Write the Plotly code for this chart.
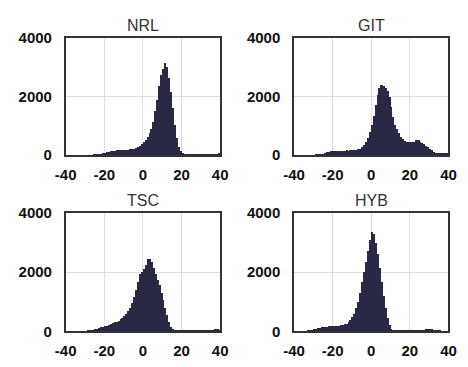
import plotly.graph_objects as go

bin_centers = [-39.5 + i for i in range(80)]

nrl = [5, 5, 5, 5, 5, 5, 5, 5, 5, 5,
       8, 8, 10, 10, 12, 15, 20, 30, 50, 70,
       90, 100, 110, 130, 150, 160, 170, 165, 170, 175,
       180, 185, 195, 205, 215, 230, 250, 280, 320, 380,
       450, 530, 620, 750, 900, 1150, 1500, 1900, 2350, 2750,
       2950, 3150, 3000, 2650, 2150, 1600, 1050, 600, 300, 150,
       90, 60, 45, 35, 30, 28, 25, 25, 25, 25,
       25, 25, 25, 25, 25, 25, 25, 30, 50, 80]

git = [5, 5, 5, 5, 5, 5, 5, 5, 5, 8,
       10, 15, 20, 30, 45, 60, 80, 100, 120, 140,
       150, 155, 160, 150, 155, 160, 160, 165, 160, 165,
       170, 175, 180, 200, 230, 280, 350, 450, 600, 800,
       1050, 1350, 1700, 2050, 2300, 2400, 2350, 2300, 2200, 2000,
       1650, 1300, 1050, 900, 750, 620, 540, 490, 470, 460,
       460, 450, 470, 510, 520, 470, 420, 370, 320, 270,
       220, 170, 120, 90, 75, 70, 70, 75, 75, 70]

tsc = [3, 3, 3, 3, 3, 3, 3, 3, 5, 5,
       8, 12, 20, 35, 50, 70, 90, 110, 130, 150,
       170, 190, 220, 250, 280, 300, 320, 350, 400, 450,
       500, 580, 680, 800, 950, 1150, 1400, 1650, 1950, 2000,
       2100, 2250, 2450, 2450, 2350, 2150, 1950, 1750, 1550, 1300,
       1050, 800, 550, 300, 150, 60, 30, 25, 20, 20,
       20, 20, 18, 18, 18, 15, 15, 15, 15, 15,
       15, 15, 15, 20, 25, 30, 40, 60, 70, 50]

hyb = [0, 0, 0, 0, 0, 0, 5, 10, 20, 35,
       60, 80, 100, 120, 140, 150, 155, 160, 165, 170,
       175, 180, 185, 190, 200, 210, 230, 260, 300, 380,
       480, 600, 780, 1000, 1300, 1650, 2000, 2350, 2700, 3100,
       3350, 3300, 3000, 2600, 2150, 1650, 1200, 800, 450, 200,
       80, 40, 30, 25, 25, 20, 20, 20, 20, 20,
       20, 20, 20, 20, 25, 25, 30, 40, 60, 80,
       90, 70, 50, 40, 30, 20, 5, 0, 0, 0]

titles = ["NRL", "GIT", "TSC", "HYB"]
series = [nrl, git, tsc, hyb]
x_ticks = [-40, -20, 0, 20, 40]
x_ticktext = ["-40", "-20", "0", "20", "40"]
y_ticks = [0, 2000, 4000]

W, H = 468, 367
xdoms = [[57 / W, 218 / W], [295 / W, 456 / W]]
ydoms = [[(H - 153) / H, (H - 30) / H], [(H - 338) / H, (H - 214) / H]]

fig = go.Figure()
layout = {}
for i, (t, vals) in enumerate(zip(titles, series)):
    r, c = divmod(i, 2)
    n = "" if i == 0 else str(i + 1)
    fig.add_trace(go.Bar(x=bin_centers, y=vals, width=1.0,
                         marker=dict(color="#2a2944", line=dict(width=0)),
                         xaxis="x" + n, yaxis="y" + n, showlegend=False))
    axfont = dict(family="Liberation Sans, Arial", size=15, color="#111", weight="bold")
    layout["xaxis" + n] = dict(domain=xdoms[c], anchor="y" + n, range=[-40, 40],
                               tickvals=x_ticks, ticktext=x_ticktext,
                               showgrid=True, gridcolor="#dedede",
                               showline=True, linecolor="#333", linewidth=1.5, mirror=True,
                               zeroline=False, ticks="", tickfont=axfont,
                               ticklabelstandoff=5, fixedrange=True)
    layout["yaxis" + n] = dict(domain=ydoms[r], anchor="x" + n, range=[0, 4000],
                               tickvals=y_ticks, showgrid=True, gridcolor="#dedede",
                               showline=True, linecolor="#333", linewidth=1.5, mirror=True,
                               zeroline=False, ticks="", tickfont=axfont,
                               ticklabelstandoff=9, fixedrange=True)
    fig.add_annotation(text=t, xref="paper", yref="paper",
                       x=(xdoms[c][0] + xdoms[c][1]) / 2,
                       y=ydoms[r][1] + 13 / H, xanchor="center", yanchor="middle",
                       showarrow=False,
                       font=dict(family="Liberation Sans, Arial", size=16, color="#333"))

fig.update_layout(width=W, height=H, margin=dict(l=0, r=0, t=0, b=0),
                  paper_bgcolor="white", plot_bgcolor="white", bargap=0,
                  **layout)
fig.write_html("out.html")
